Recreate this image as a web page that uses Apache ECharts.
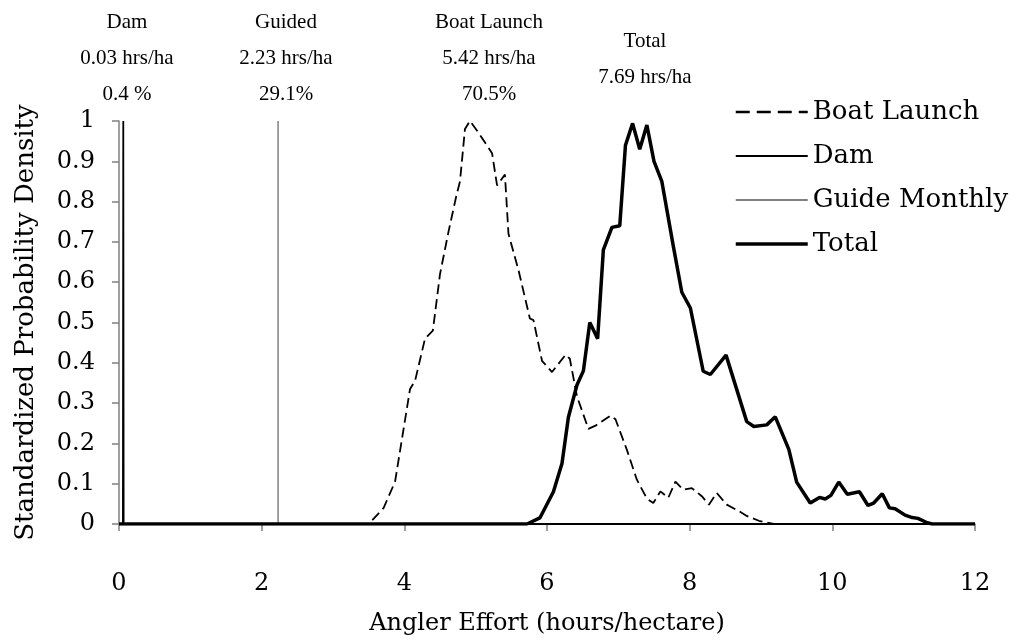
<!DOCTYPE html>
<html>
<head>
<meta charset="utf-8">
<script src="https://cdn.jsdelivr.net/npm/echarts@6/dist/echarts.min.js"></script>
<style>
  html, body { margin: 0; padding: 0; background: #fff; }
  #chart { width: 1018px; height: 641px; }
</style>
</head>
<body>
<div id="chart"></div>
<script>
// x ticks and y ticks
const xTicks = [0, 2, 4, 6, 8, 10, 12];
const yTicks = [0, 0.1, 0.2, 0.3, 0.4, 0.5, 0.6, 0.7, 0.8, 0.9, 1];

// series values: [effort, standardized density]
const boatLaunch = [
  [0, 0], [3.5, 0], [3.71, 0.04], [3.87, 0.105], [4.08, 0.335], [4.15, 0.355],
  [4.29, 0.46], [4.40, 0.48], [4.50, 0.62], [4.62, 0.726], [4.73, 0.815],
  [4.78, 0.85], [4.85, 0.98], [4.92, 1.0], [5.02, 0.976], [5.23, 0.92],
  [5.30, 0.84], [5.41, 0.867], [5.46, 0.72], [5.60, 0.63], [5.76, 0.51],
  [5.81, 0.506], [5.93, 0.405], [6.07, 0.377], [6.26, 0.42], [6.32, 0.41],
  [6.42, 0.317], [6.58, 0.236], [6.68, 0.244], [6.89, 0.269], [6.96, 0.26],
  [7.12, 0.184], [7.26, 0.11], [7.40, 0.063], [7.49, 0.052], [7.59, 0.081],
  [7.70, 0.065], [7.80, 0.105], [7.91, 0.085], [8.03, 0.089], [8.17, 0.069],
  [8.27, 0.048], [8.38, 0.077], [8.52, 0.048], [8.69, 0.032], [8.80, 0.02],
  [8.97, 0.008], [9.18, 0], [12, 0]
];
const dam = [[0, 0], [0.055, 0], [0.06, 1], [0.065, 0], [12, 0]];
const guideMonthly = [[2.23, 0], [2.23, 1]];
const total = [
  [0, 0], [5.72, 0], [5.90, 0.015], [6.09, 0.08], [6.21, 0.15], [6.30, 0.265],
  [6.42, 0.345], [6.51, 0.38], [6.60, 0.50], [6.71, 0.46], [6.79, 0.68],
  [6.91, 0.736], [7.02, 0.74], [7.10, 0.94], [7.20, 0.994], [7.30, 0.93],
  [7.40, 0.99], [7.50, 0.90], [7.61, 0.85], [7.77, 0.69], [7.89, 0.575],
  [8.01, 0.536], [8.19, 0.379], [8.29, 0.371], [8.51, 0.419], [8.80, 0.254],
  [8.90, 0.242], [9.08, 0.246], [9.20, 0.266], [9.39, 0.185], [9.50, 0.104],
  [9.69, 0.052], [9.82, 0.066], [9.90, 0.062], [9.98, 0.071], [10.09, 0.104],
  [10.21, 0.074], [10.38, 0.08], [10.50, 0.046], [10.58, 0.052], [10.70, 0.075],
  [10.80, 0.04], [10.88, 0.038], [11.02, 0.022], [11.12, 0.016], [11.20, 0.014],
  [11.33, 0.003], [11.40, 0], [12, 0]
];

const legendNames = ['Boat Launch', 'Dam', 'Guide Monthly', 'Total'];

// annotation columns above the plot
const annoDam = ['Dam', '0.03 hrs/ha', '0.4 %'];
const annoGuided = ['Guided', '2.23 hrs/ha', '29.1%'];
const annoBoat = ['Boat Launch', '5.42 hrs/ha', '70.5%'];
const annoTotal = ['Total', '7.69 hrs/ha'];

const serif = 'DejaVu Serif';
const annoFont = 'Liberation Serif';

// legend line looks per series (the legend draws these a bit heavier than the plot)
const legendLines = {
  'Boat Launch': { color: '#000', width: 2.5, type: [14, 7] },
  'Dam': { color: '#000', width: 1.8 },
  'Guide Monthly': { color: '#808080', width: 1.8 },
  'Total': { color: '#000', width: 3.5 }
};

const chart = echarts.init(document.getElementById('chart'), null, { renderer: 'canvas' });

const annoText = (lines, x, ys) => lines.map((t, i) => ({
  type: 'text',
  x: x,
  y: ys[i],
  style: {
    text: t,
    fill: '#000',
    font: '21px "' + annoFont + '"',
    textAlign: 'center',
    textVerticalAlign: 'middle'
  }
}));

const rows = [22, 58, 94];

chart.setOption({
  animation: false,
  backgroundColor: '#fff',
  grid: { left: 119, right: 43, top: 121, bottom: 104, containLabel: false },
  legend: {
    data: legendNames.map(n => ({ name: n, lineStyle: legendLines[n] })),
    orient: 'vertical',
    left: 729,
    top: 92,
    itemWidth: 72,
    itemHeight: 14,
    itemGap: 14,
    itemStyle: { opacity: 0 },
    textStyle: { fontFamily: serif, fontSize: 26, color: '#000', lineHeight: 30 }
  },
  xAxis: {
    type: 'value',
    min: 0,
    max: 12,
    interval: 2,
    name: 'Angler Effort (hours/hectare)',
    nameLocation: 'middle',
    nameGap: 88,
    nameTextStyle: { fontFamily: serif, fontSize: 24, color: '#000' },
    splitLine: { show: false },
    axisLine: { lineStyle: { color: '#808080', width: 1.5 } },
    axisTick: { length: 7, lineStyle: { color: '#808080', width: 1.5 } },
    axisLabel: {
      fontFamily: serif, fontSize: 24, color: '#000', margin: 48,
      formatter: v => xTicks.includes(v) ? String(v) : ''
    }
  },
  yAxis: {
    type: 'value',
    min: 0,
    max: 1,
    interval: 0.1,
    name: 'Standardized Probability Density',
    nameLocation: 'middle',
    nameGap: 80,
    nameTextStyle: { fontFamily: serif, fontSize: 26, color: '#000' },
    splitLine: { show: false },
    axisLine: { show: true, lineStyle: { color: '#808080', width: 1.5 } },
    axisTick: { show: true, length: 7, lineStyle: { color: '#808080', width: 1.5 } },
    axisLabel: {
      fontFamily: serif, fontSize: 24, color: '#000', margin: 24,
      formatter: v => {
        const t = yTicks.find(y => Math.abs(y - v) < 1e-6);
        return t === undefined ? '' : String(t);
      }
    }
  },
  series: [
    {
      name: 'Dam', type: 'line', data: dam, symbol: 'none', z: 3,
      lineStyle: { color: '#000', width: 1.8 }, itemStyle: { color: '#000' }
    },
    {
      name: 'Guide Monthly', type: 'line', data: guideMonthly, symbol: 'none', z: 2,
      lineStyle: { color: '#808080', width: 1.5 }, itemStyle: { color: '#808080' }
    },
    {
      name: 'Boat Launch', type: 'line', data: boatLaunch, symbol: 'none', z: 4,
      lineStyle: { color: '#000', width: 1.8, type: [10, 5] }, itemStyle: { color: '#000' }
    },
    {
      name: 'Total', type: 'line', data: total, symbol: 'none', z: 5,
      lineStyle: { color: '#000', width: 3.5 }, itemStyle: { color: '#000' }
    }
  ],
  graphic: [
    ...annoText(annoDam, 127, rows),
    ...annoText(annoGuided, 286, rows),
    ...annoText(annoBoat, 489, rows),
    ...annoText(annoTotal, 645, [41, 77])
  ]
});
</script>
</body>
</html>
